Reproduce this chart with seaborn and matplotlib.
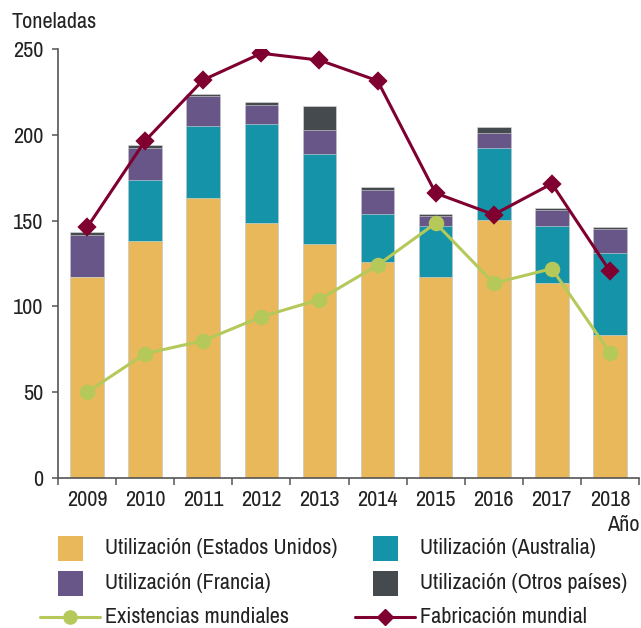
import numpy as np
import pandas as pd
import seaborn as sns
import matplotlib
matplotlib.use('Agg')
import matplotlib.pyplot as plt
from matplotlib.patches import Rectangle
from matplotlib.lines import Line2D

years = ['2009', '2010', '2011', '2012', '2013', '2014', '2015', '2016', '2017', '2018']
usa = [117, 138, 163, 148.5, 136.5, 126, 117, 150.5, 113.5, 83.5]
australia = [0, 35.5, 42, 58, 52.5, 28, 30, 42, 33.5, 47.5]
francia = [24.5, 19, 17.5, 11, 14, 14, 5.5, 8.5, 9, 14]
otros = [2, 1.5, 1.5, 1.5, 14, 1.5, 1.5, 3.5, 1.5, 1.5]
existencias = [50, 72.5, 80, 94, 104, 124, 148.5, 113.5, 122, 73]
fabricacion = [146, 196.5, 232, 247.5, 243.5, 231.5, 166, 153.5, 171.5, 120.5]

c_usa = '#E8B85A'
c_aus = '#1593A8'
c_fra = '#675687'
c_otr = '#444A4E'
c_exi = '#B5C95A'
c_fab = '#7F0030'

sns.set_style('white')
plt.rcParams['font.family'] = ['Archivo Narrow', 'DejaVu Sans']
txt = '#222222'
axc = '#555555'
fs = 16

fig = plt.figure(figsize=(6.41, 6.28), dpi=100)
W, H = 641, 628
ax = fig.add_axes([58 / W, (H - 478) / H, (639 - 58) / W, (478 - 49) / H])

df = pd.DataFrame({'year': years, 'usa': usa, 'aus': australia, 'fra': francia, 'otr': otros})
df['c1'] = df['usa']
df['c2'] = df['c1'] + df['aus']
df['c3'] = df['c2'] + df['fra']
df['c4'] = df['c3'] + df['otr']

# stacked bars: draw cumulative totals from top layer down
for col, colr in [('c4', c_otr), ('c3', c_fra), ('c2', c_aus), ('c1', c_usa)]:
    sns.barplot(data=df, x='year', y=col, color=colr, width=0.58, saturation=1,
                edgecolor='#dddddd', linewidth=0.4, ax=ax)

sns.pointplot(x=years, y=existencias, color=c_exi, marker='o', markersize=9.5,
              linewidth=2.2, ax=ax)
sns.pointplot(x=years, y=fabricacion, color=c_fab, marker='D', markersize=8.5,
              linewidth=2.2, ax=ax)

ax.set_xlim(-0.5, 9.5)
ax.set_ylim(0, 250)
ax.set_yticks([0, 50, 100, 150, 200, 250])
ax.set_xlabel('')
ax.set_ylabel('')
for s in ['top', 'right']:
    ax.spines[s].set_visible(False)
for s in ['left', 'bottom']:
    ax.spines[s].set_color(axc)
    ax.spines[s].set_linewidth(1.2)
ax.tick_params(axis='y', length=4.3, width=1.1, color=axc, pad=6.5, labelsize=fs, labelcolor=txt, left=True)
ax.tick_params(axis='x', which='major', length=0, pad=9, labelsize=fs, labelcolor=txt)
ax.set_xticks(np.arange(-0.5, 10, 1), minor=True)
ax.tick_params(axis='x', which='minor', length=5, width=1.1, color=axc, bottom=True)

fig.text(12 / W, 1 - 22 / H, 'Toneladas', fontsize=fs, color=txt, va='center', ha='left')
fig.text(640 / W, 1 - 525 / H, 'Año', fontsize=fs, color=txt, va='center', ha='right')

# legend
def fx(x):
    return x / W

def fy(y):
    return 1 - y / H

entries = [
    ('patch', c_usa, 'Utilización (Estados Unidos)', 70, 548),
    ('patch', c_aus, 'Utilización (Australia)', 385, 548),
    ('patch', c_fra, 'Utilización (Francia)', 70, 583),
    ('patch', c_otr, 'Utilización (Otros países)', 385, 583),
    ('o', c_exi, 'Existencias mundiales', 70, 617),
    ('D', c_fab, 'Fabricación mundial', 385, 617),
]
for kind, colr, label, cx, cy in entries:
    if kind == 'patch':
        fig.add_artist(Rectangle((fx(cx - 12.5), fy(cy + 12.5)), 25 / W, 25 / H,
                                 transform=fig.transFigure, color=colr, lw=0))
    else:
        fig.add_artist(Line2D([fx(cx - 30), fx(cx + 30)], [fy(cy), fy(cy)],
                              transform=fig.transFigure, color=colr, lw=2.2))
        fig.add_artist(Line2D([fx(cx)], [fy(cy)], transform=fig.transFigure,
                              color=colr, marker=kind, markersize=9.5 if kind == 'o' else 8.5, lw=0))
    fig.text(fx(cx + 35), fy(cy), label, fontsize=fs, color=txt, va='center', ha='left')

fig.savefig('out.png', dpi=100)
